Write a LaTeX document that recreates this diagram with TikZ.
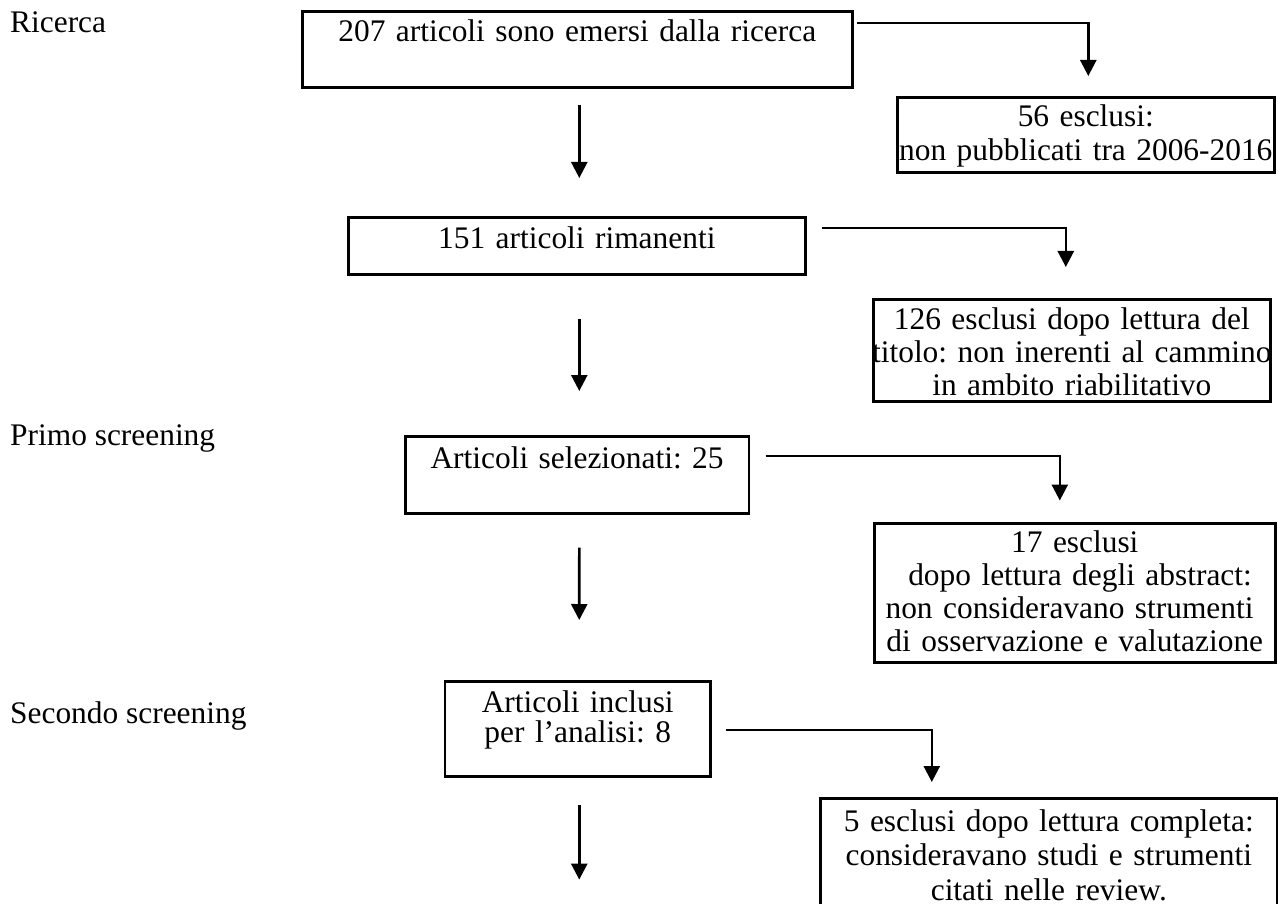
\documentclass[tikz,border=0pt]{standalone}
\usepackage{fontspec}
\setmainfont{Liberation Serif}
\usetikzlibrary{arrows.meta,calc}
\frenchspacing
\newcommand\bxline[1]{\makebox[\linewidth]{#1}}
\begin{document}
\begin{tikzpicture}[x=1pt,y=-1pt,
  box/.style={draw, line width=2.6pt, inner sep=0pt, align=center, anchor=north west},
  fnt/.style={font=\fontsize{31.4}{#1}\selectfont\frenchspacing},
  conn/.style={line width=2.6pt, -{Triangle[length=16pt,width=16pt]}},
  lbl/.style={inner sep=0pt, anchor=base west, font=\fontsize{31.4}{34}\selectfont}]
\useasboundingbox (0,0) rectangle (1278,904);
\fill[white] (0,0) rectangle (1278,904);
\clip (0,0) rectangle (1278,904);

% left labels
\node[lbl] (l1) at (10,33) {Ricerca};
\node[lbl] (l2) at (10,445) {Primo screening};
\node[lbl] (l3) at (10,723) {Secondo screening};

% main column
\node[box, fnt=34, text width=550pt, text height=30pt, text depth=46pt] (b1) at (301,10) {\bxline{207 articoli sono emersi dalla ricerca}};
\node[box, fnt=34, text width=457pt, text height=31pt, text depth=26pt] (b151) at (347,216) {\bxline{151 articoli rimanenti}};
\node[box, fnt=34, text width=343.5pt, text height=31.7pt, text depth=45.3pt] (b25) at (404,435) {\bxline{Articoli selezionati: 25}};
\node[box, fnt=30, text width=265.7pt, text height=31pt, text depth=64pt] (b8) at (443.6,680) {\bxline{Articoli inclusi}\\\bxline{per l’analisi: 8}};

% exclusion column
\node[box, fnt=34, text width=377pt, text height=29pt, text depth=46pt] (b56) at (896,96) {\bxline{56 esclusi:}\\\bxline{non pubblicati tra 2006-2016}};
\node[box, fnt=33, text width=397pt, text height=30pt, text depth=72pt] (b126) at (872,298) {\bxline{126 esclusi dopo lettura del}\\\bxline{titolo: non inerenti al cammino}\\\bxline{in ambito riabilitativo}};
\node[box, fnt=33, text width=401pt, text height=29pt, text depth=110pt] (b17) at (873,522) {\bxline{17 esclusi}\\\bxline{\ dopo lettura degli abstract:}\\\bxline{non consideravano strumenti\ }\\\bxline{di osservazione e valutazione}};
\node[box, fnt=34.5, text height=33pt, text width=457pt, text depth=96pt] (b5) at (819,797) {\bxline{5 esclusi dopo lettura completa:}\\\bxline{consideravano studi e strumenti}\\\bxline{citati nelle review.}};

% side connectors
\draw[conn] ([shift={(3,13)}]b1.north east) -| ([shift={(2.5,-20)}]b56.north);
\draw[conn] ([shift={(15.5,12)}]b151.north east) -| ([shift={(-6,-31)}]b126.north);
\draw[conn] ([shift={(15.5,21)}]b25.north east) -| ([shift={(-15,-21.5)}]b17.north);
\draw[conn] ([shift={(14,50)}]b8.north east) -| ([shift={(-117,-15)}]b5.north);

% vertical connectors
\draw[conn] ([shift={(2,16)}]b1.south) -- ([shift={(2.5,-38)}]b151.north);
\draw[conn] ([shift={(2.5,43)}]b151.south) -- ([shift={(2.25,-44)}]b25.north);
\draw[conn] ([shift={(2.25,33)}]b25.south) -- ([shift={(1.5,-60)}]b8.north);
\coordinate (endpt) at ([shift={(1.5,102)}]b8.south);
\draw[conn] ([shift={(1.5,27)}]b8.south) -- (endpt);
\end{tikzpicture}
\end{document}
